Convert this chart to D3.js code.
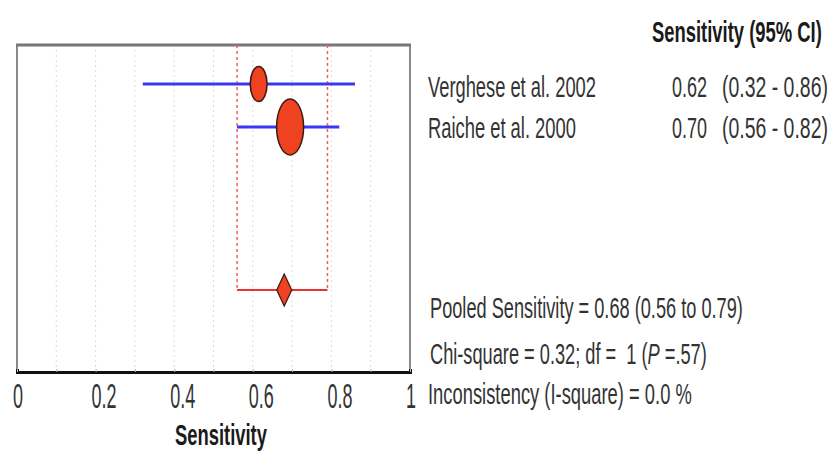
<!DOCTYPE html>
<html><head><meta charset="utf-8">
<script src="https://cdn.jsdelivr.net/npm/d3@7"></script>
<style>html,body{margin:0;padding:0;background:#fff;}svg{display:block;}</style>
</head><body>
<svg id="chart" width="834" height="459"></svg>
<script>
// ---- data ----
const studies = ["Verghese et al. 2002", "Raiche et al. 2000"];
const sensitivity = [0.62, 0.70];
const ciLow = [0.32, 0.56];
const ciHigh = [0.86, 0.82];
const weights = [28, 72];            // relative study weight (marker area)
const pooled = [0.68, 0.56, 0.79];   // estimate, low, high
const chiSquare = 0.32, df = 1, pValue = ".57", iSquare = 0.0;
const tickValues = [0, 0.2, 0.4, 0.6, 0.8, 1];
const gridValues = [0.1, 0.2, 0.3, 0.4, 0.5, 0.6, 0.7, 0.8, 0.9];

(function () {
const svg = d3.select("#chart");
const fmt = d3.format(".2f");
const font = "'Liberation Sans', Arial, sans-serif";
const textCol = "#333";

const x = d3.scaleLinear().domain([0, 1]).range([17, 410]);
const rowY = d3.scalePoint().domain(studies).range([84, 127]);
const pooledY = 290;
const plotTop = 45, plotBottom = 372;
const rScale = d3.scaleSqrt().domain([0, 72]).range([0, 1]);

// gridlines
svg.append("g").selectAll("line").data(gridValues).join("line")
  .attr("x1", d => x(d)).attr("x2", d => x(d))
  .attr("y1", plotTop).attr("y2", plotBottom)
  .attr("stroke", "#dcdcdc").attr("stroke-width", 1).attr("stroke-dasharray", "2,3");

// frame
svg.append("line").attr("x1", x(0)).attr("x2", x(0)).attr("y1", plotTop).attr("y2", plotBottom)
  .attr("stroke", "#8a8a8a").attr("stroke-width", 2);
svg.append("line").attr("x1", x(1)).attr("x2", x(1)).attr("y1", plotTop).attr("y2", plotBottom)
  .attr("stroke", "#8a8a8a").attr("stroke-width", 2);
svg.append("line").attr("x1", x(0) - 1).attr("x2", x(1) + 1).attr("y1", plotTop).attr("y2", plotTop)
  .attr("stroke", "#777").attr("stroke-width", 3);

// axis
const axis = d3.axisBottom(x).tickValues(gridValues.concat([0, 1])).tickSize(-3).tickFormat("");
const ag = svg.append("g").attr("transform", `translate(0,${plotBottom})`).call(axis);
ag.select(".domain").attr("stroke", "#111").attr("stroke-width", 3);
ag.selectAll(".tick line").attr("stroke", "#bbb");

// tick labels
svg.append("g").selectAll("text").data(tickValues).join("text")
  .attr("transform", d => `translate(${x(d) - 4},408) scale(0.5,1)`)
  .attr("font-family", font).attr("font-size", 36).attr("fill", "#333")
  .text(d => String(d));

// condensed text helper: fits the text to a given width by horizontal scaling
function txt(xp, yp, w, parts, bold) {
  const t = svg.append("text").attr("x", 0).attr("y", 0)
    .attr("font-family", font).attr("font-size", 30)
    .attr("font-weight", bold ? "bold" : "normal")
    .attr("fill", bold ? "#1a1a1a" : textCol);
  (Array.isArray(parts) ? parts : [[parts]]).forEach(p => {
    const ts = t.append("tspan").text(p[0]);
    if (p[1]) ts.attr("font-style", "italic");
  });
  const len = t.node().getComputedTextLength();
  t.attr("transform", `translate(${xp},${yp}) scale(${w / len},1)`);
  return t;
}

// axis title
txt(175, 445, 92, "Sensitivity", true);

// pooled dashed verticals
svg.append("g").selectAll("line").data([pooled[1], pooled[2]]).join("line")
  .attr("x1", d => x(d)).attr("x2", d => x(d)).attr("y1", plotTop).attr("y2", pooledY)
  .attr("stroke", "#f06060").attr("stroke-width", 1.5).attr("stroke-dasharray", "3,3");

// pooled CI line
svg.append("line").attr("x1", x(pooled[1])).attr("x2", x(pooled[2]))
  .attr("y1", pooledY).attr("y2", pooledY).attr("stroke", "#ee3030").attr("stroke-width", 2);

// study CI lines
svg.append("g").selectAll("line").data(studies).join("line")
  .attr("x1", (d, i) => x(ciLow[i])).attr("x2", (d, i) => x(ciHigh[i]))
  .attr("y1", d => rowY(d)).attr("y2", d => rowY(d))
  .attr("stroke", "#3838ee").attr("stroke-width", 3);

// study markers (ellipses)
svg.append("g").selectAll("ellipse").data(studies).join("ellipse")
  .attr("cx", (d, i) => x(sensitivity[i]) - 2).attr("cy", d => rowY(d))
  .attr("rx", (d, i) => 13.5 * rScale(weights[i]))
  .attr("ry", (d, i) => 28 * rScale(weights[i]))
  .attr("fill", "#ee4220").attr("stroke", "#3a1a12").attr("stroke-width", 1.5);

// pooled diamond
const px = x(pooled[0]);
svg.append("path")
  .attr("d", `M${px},${pooledY - 16}L${px + 7.5},${pooledY}L${px},${pooledY + 16}L${px - 7.5},${pooledY}Z`)
  .attr("fill", "#ee4220").attr("stroke", "#3a1a12").attr("stroke-width", 1.2);

// right-side text
txt(652, 42, 170, "Sensitivity (95% CI)", true);

const rowBase = d3.scalePoint().domain(studies).range([97, 138]);
const nameW = [168, 148];
studies.forEach((s, i) => {
  const yb = rowBase(s);
  txt(428, yb, nameW[i], s);
  txt(672, yb, 35, fmt(sensitivity[i]));
  txt(722, yb, 106, `(${fmt(ciLow[i])} - ${fmt(ciHigh[i])})`);
});

txt(430, 318, 313, `Pooled Sensitivity = ${fmt(pooled[0])} (${fmt(pooled[1])} to ${fmt(pooled[2])})`);
txt(430, 364, 277, [[`Chi-square = ${fmt(chiSquare)}; df =\u00a0 ${df} (`], ["P", true], [` =${pValue})`]]);
txt(428, 404, 264, `Inconsistency (I-square) = ${iSquare.toFixed(1)} %`);
})();
</script>
</body></html>
